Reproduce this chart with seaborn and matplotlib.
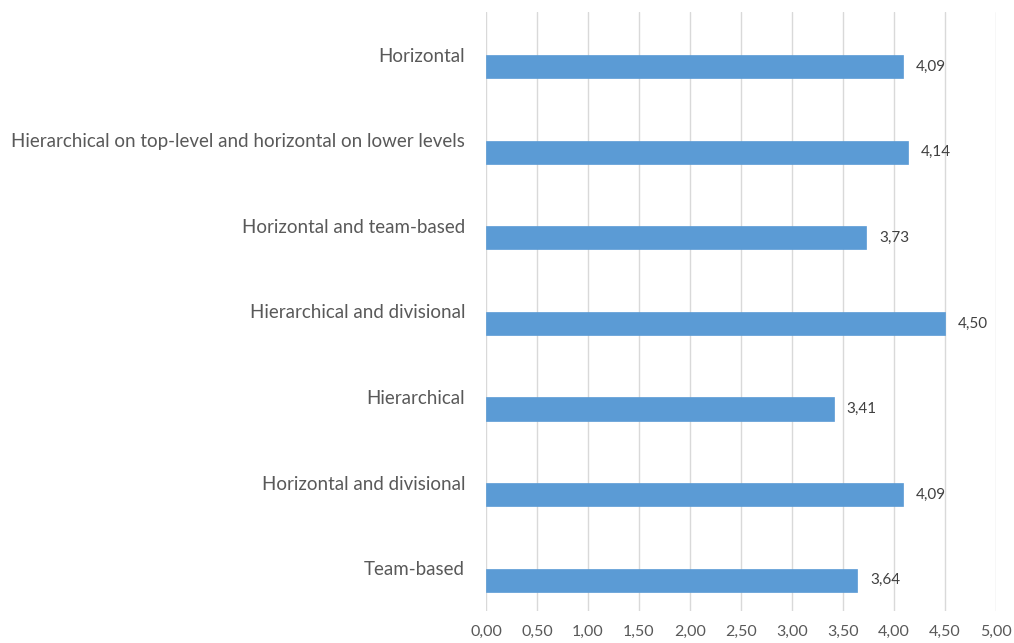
import matplotlib
matplotlib.use("Agg")
import matplotlib.pyplot as plt
import matplotlib.transforms as mtransforms
import seaborn as sns
import pandas as pd
import numpy as np

categories = [
    "Horizontal",
    "Hierarchical on top-level and horizontal on lower levels",
    "Horizontal and team-based",
    "Hierarchical and divisional",
    "Hierarchical",
    "Horizontal and divisional",
    "Team-based",
]
values = [4.09, 4.14, 3.73, 4.50, 3.41, 4.09, 3.64]
xticks = [0, 0.5, 1.0, 1.5, 2.0, 2.5, 3.0, 3.5, 4.0, 4.5, 5.0]

df = pd.DataFrame({"category": categories, "value": values})

sns.set_theme(style="white")
plt.rcParams["font.family"] = ["Lato", "DejaVu Sans"]

W, H = 1014, 643
fig = plt.figure(figsize=(W / 100, H / 100), dpi=100)
ax = fig.add_axes([486 / W, 1 - 611 / H, (996 - 486) / W, (611 - 12) / H])

text_color = "#595959"
sns.barplot(data=df, x="value", y="category", orient="h", color="#5B9BD5",
            saturation=1, width=0.27, ax=ax, edgecolor="#5B9BD5", linewidth=0.5)

ax.set_xlim(0, 5)
ax.set_ylim(len(categories) - 0.64, -0.64)
ax.set_xticks(xticks)
ax.set_xticklabels([f"{t:.2f}".replace(".", ",") for t in xticks])
ax.set_xlabel("")
ax.set_ylabel("")
ax.grid(axis="x", color="#D9D9D9", linewidth=1)
ax.grid(axis="y", visible=False)
ax.set_axisbelow(True)
for s in ax.spines.values():
    s.set_visible(False)

ax.tick_params(axis="x", length=0, pad=10, labelsize=11.5, labelcolor=text_color)
ax.tick_params(axis="y", length=0, pad=15, labelsize=13.5, labelcolor=text_color)

# category labels sit above the bars (Excel band centre)
offset = mtransforms.ScaledTranslation(0, 12 / 100, fig.dpi_scale_trans)
for lab in ax.get_yticklabels():
    lab.set_transform(lab.get_transform() + offset)

for i, v in enumerate(values):
    ax.annotate(f"{v:.2f}".replace(".", ","), xy=(v, i), xytext=(13, 0),
                textcoords="offset pixels", va="center", ha="left",
                fontsize=11, color="#404040")

fig.savefig("out.png", dpi=100)
